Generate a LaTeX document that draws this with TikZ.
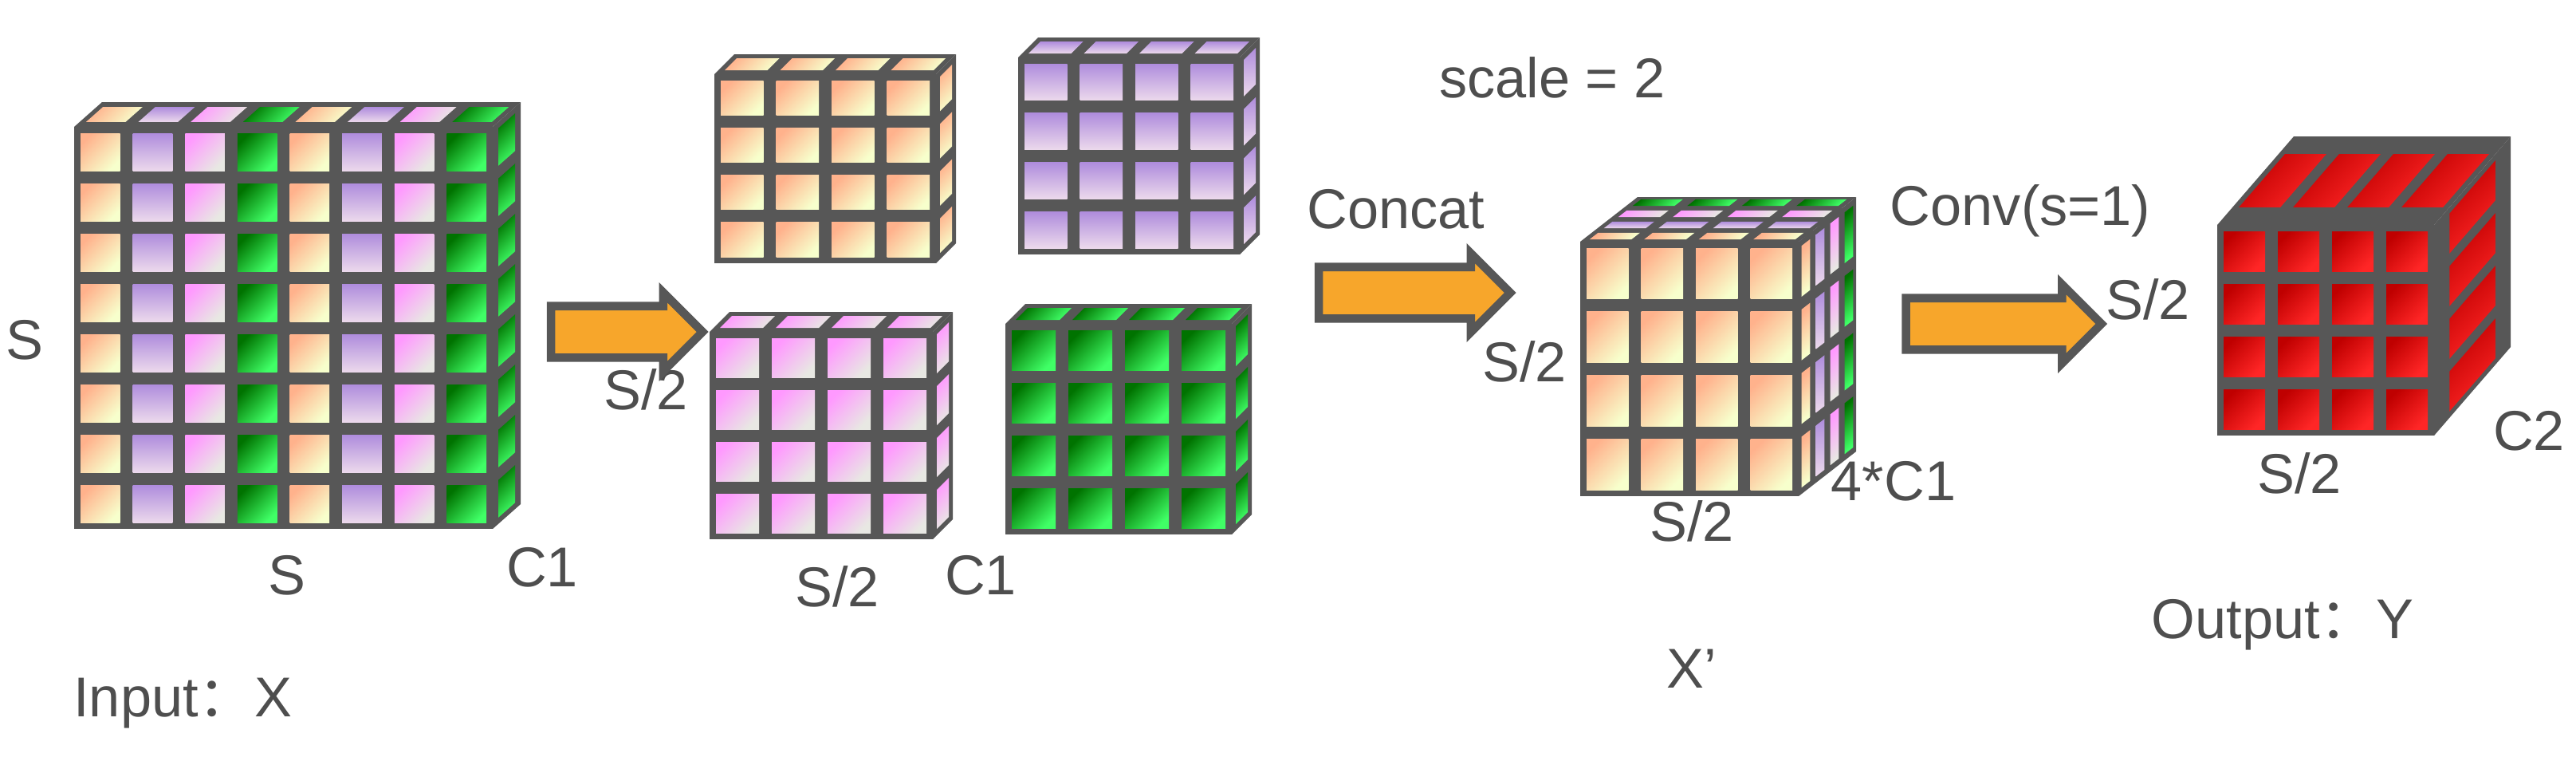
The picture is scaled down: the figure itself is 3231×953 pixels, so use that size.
\documentclass[tikz,border=0pt]{standalone}
\usepackage{fontspec}
\setmainfont{Liberation Sans}
\newfontfamily\cjk{Noto Sans CJK SC}
\usetikzlibrary{positioning, shapes.arrows}
\definecolor{framegray}{HTML}{575757}
\definecolor{arroworange}{HTML}{F7A62B}
\tikzset{%
  frame/.style={fill=framegray},
  lbl/.style={font=\fontsize{20}{24}\selectfont, text=framegray!90!black},
  fatarrow/.style={single arrow, draw=framegray, line width=3pt, fill=arroworange,
    inner xsep=0pt, inner ysep=0.27cm, minimum width=0.95cm,
    single arrow head extend=0.17cm, single arrow head indent=0cm},
  cor/.style={left color=red!35!orange!45, right color=green!15!yellow!20, shading angle=45},
  cpu/.style={top color=blue!40!violet!45, bottom color=violet!15, shading angle=0},
  cpi/.style={left color=magenta!40, right color=yellow!10!gray!20, shading angle=45},
  cgr/.style={left color=green!45!black, right color=green!80!cyan!75, shading angle=45},
  cre/.style={left color=red!75!black, right color=red!85!white, shading angle=45}
}
% #1 x, #2 y, #3 w, #4 h, #5 dx, #6 dy, #7 column styles, #8 cells per side, #9 side style
\newcommand\gridblock[9]{%
  \fill[frame] (#1,#2) rectangle ++(#3,#4);
  \fill[frame] (#1,#2) -- ++(#5,#6) -- ++(#3,0) -- ++(-#5,-#6) -- cycle;
  \fill[frame] (#1+#3,#2) -- ++(#5,#6) -- ++(0,#4) -- ++(-#5,-#6) -- cycle;
  \pgfmathsetmacro\cw{#3/#8}
  \pgfmathsetmacro\ch{#4/#8}
  \foreach \s [count=\i] in {#7} {
    \foreach \j in {1,...,#8}
      \shade[\s] ({#1+(\i-1)*\cw+8},{#2+(\j-1)*\ch+8}) rectangle ({#1+\i*\cw-8},{#2+\j*\ch-8});
    \shade[\s] ({#1+(\i-1)*\cw+8+0.2*#5},{#2+0.2*#6}) -- ++({0.6*#5},{0.6*#6})
      -- ++({\cw-16},0) -- ++({-0.6*#5},{-0.6*#6}) -- cycle;
  }
  \foreach \j in {1,...,#8}
    \shade[#9] ({#1+#3+0.2*#5},{#2+(\j-1)*\ch+8+0.2*#6}) -- ++({0.6*#5},{0.6*#6})
      -- ++(0,{\ch-16}) -- ++({-0.6*#5},{-0.6*#6}) -- cycle;
}

\begin{document}
\begin{tikzpicture}[x=0.01cm, y=-0.01cm]
  \useasboundingbox (0,0) rectangle (3231,953);
  %% input
  \gridblock{93}{159}{525}{504}{35}{-31}{cor,cpu,cpi,cgr,cor,cpu,cpi,cgr}{8}{cgr}
  \node[lbl] (sin) at (31,426) {S};
  \node[lbl] (sinb) at (360,721) {S};
  \node[lbl] (c1in) at (680,711) {C1};
  \node[lbl, anchor=west] (input) at (80,882) {Input{\cjk ：}X};
  %% slices
  \gridblock{896}{93}{278}{237}{25}{-25}{cor,cor,cor,cor}{4}{cor}
  \gridblock{1277}{72}{278}{247}{25}{-25}{cpu,cpu,cpu,cpu}{4}{cpu}
  \gridblock{890}{416}{280}{260}{25}{-25}{cpi,cpi,cpi,cpi}{4}{cpi}
  \gridblock{1261}{406}{284}{264}{25}{-25}{cgr,cgr,cgr,cgr}{4}{cgr}
  \node[lbl] (sl) at (810,488) {S/2};
  \node[lbl] (slb) at (1050,735) {S/2};
  \node[lbl] (c1sl) at (1230,721) {C1};
  \node[lbl] (scale) at (1947,97) {scale = 2};
  %% concat
  \gridblock{2036}{261}{274}{319}{18}{-14}{cgr,cgr,cgr,cgr}{4}{cgr}
  \gridblock{2018}{275}{274}{319}{18}{-14}{cpi,cpi,cpi,cpi}{4}{cpi}
  \gridblock{2000}{289}{274}{319}{18}{-14}{cpu,cpu,cpu,cpu}{4}{cpu}
  \gridblock{1982}{303}{274}{319}{18}{-14}{cor,cor,cor,cor}{4}{cor}
  \node[lbl] (concat) at (1751,262) {Concat};
  \node[lbl] (conv) at (2534,264) {Conv(s=1)};
  \node[lbl] (sx) at (1912,453) {S/2};
  \node[lbl] (sxb) at (2122,653) {S/2};
  \node[lbl] (c4) at (2375,603) {4*C1};
  \node[lbl] (xp) at (2122,838) {X’};
  %% output
  \gridblock{2781}{282}{272}{264}{96}{-111}{cre,cre,cre,cre}{4}{cre}
  \node[lbl] (sy) at (2694,375) {S/2};
  \node[lbl] (syb) at (2884,593) {S/2};
  \node[lbl] (c2) at (3172,540) {C2};
  \node[lbl] (output) at (2863,783) {Output{\cjk ：}Y};
  %% arrows
  \node[fatarrow, minimum height=1.9cm] (split) at (770,416) {};
  \node[fatarrow, minimum height=2.4cm] (cat) at (1758,367) {};
  \node[fatarrow, minimum height=2.45cm] (cv) at (2497,406) {};
\end{tikzpicture}
\end{document}
